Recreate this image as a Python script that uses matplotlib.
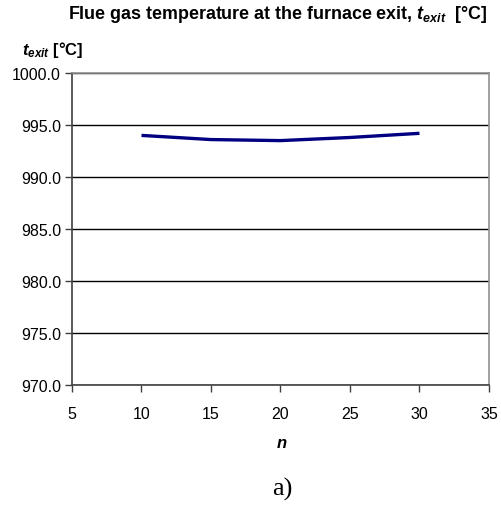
import matplotlib
matplotlib.use("Agg")
import matplotlib.pyplot as plt

plt.rcParams['font.family'] = ['Liberation Sans', 'DejaVu Sans']
plt.rcParams['mathtext.fontset'] = 'custom'
plt.rcParams['mathtext.it'] = 'Liberation Sans:italic:bold'
plt.rcParams['mathtext.rm'] = 'Liberation Sans:bold'
plt.rcParams['mathtext.bf'] = 'Liberation Sans:bold'

n = [10, 15, 20, 25, 30]
t_exit = [994.0, 993.6, 993.5, 993.8, 994.2]
xticks = [5, 10, 15, 20, 25, 30, 35]
yticks = [970, 975, 980, 985, 990, 995, 1000]

fig = plt.figure(figsize=(5.01, 5.10), dpi=100)
ax = fig.add_axes([0.1437, 0.2431, 0.8323, 0.6118])

ax.plot(n, t_exit, color='#000080', lw=2.4, solid_capstyle='butt')

ax.set_xlim(5, 35)
ax.set_ylim(970, 1000)
ax.set_xticks(xticks)
ax.set_yticks(yticks)
ax.set_yticklabels([f"{v:.1f}" for v in yticks])
ax.tick_params(axis='both', labelsize=11.5, direction='out', length=5, width=1,
               color='#404040', pad=3)
ax.tick_params(axis='x', pad=10)
ax.grid(axis='y', color='black', lw=1)
ax.set_axisbelow(True)

for side in ['left', 'bottom']:
    ax.spines[side].set_color('#404040')
    ax.spines[side].set_linewidth(1.2)
for side in ['top', 'right']:
    ax.spines[side].set_color('#909090')
    ax.spines[side].set_linewidth(1.2)

fig.text(0.555, 0.972, r"Flue gas temperature at the furnace exit, $t_{exit}$  [°C]",
         ha='center', va='center', fontsize=12.9, fontweight='bold')
fig.text(0.044, 0.902, r"$t_{exit}$ [°C]", ha='left', va='center',
         fontsize=12, fontweight='bold')
fig.text(0.563, 0.131, r"$n$", ha='center', va='center', fontsize=12)
fig.text(0.563, 0.04, "a)", ha='center', va='center', fontsize=19,
         family='Liberation Serif')

fig.savefig("out.png", dpi=100)
